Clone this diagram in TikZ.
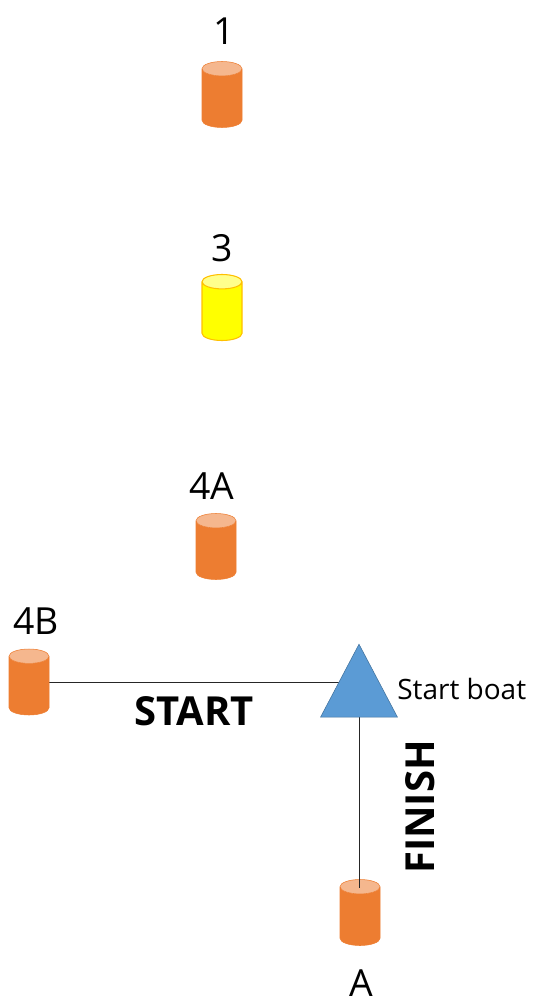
\documentclass[tikz,border=0pt]{standalone}
\usepackage{fontspec}
\setmainfont{Open Sans}
\usepackage{tikz}
\usetikzlibrary{shapes.geometric, positioning, calc, backgrounds}
\definecolor{buoyorange}{RGB}{237, 125, 49}
\definecolor{buoyyellow}{RGB}{255, 255, 0}
\definecolor{yellowedge}{RGB}{255, 192, 0}
\definecolor{boatblue}{RGB}{91, 155, 213}
\definecolor{boatedge}{RGB}{65, 113, 156}

\begin{document}
\begin{tikzpicture}[
    x=0.75pt, y=-0.75pt,
    buoy/.style={cylinder, shape border rotate=90, aspect=0.36, minimum width=30pt, minimum height=49.5pt, inner xsep=15pt, inner ysep=0pt, anchor=shape center, draw=buoyorange, cylinder uses custom fill, cylinder body fill=buoyorange, cylinder end fill=buoyorange!55!white},
    yellowbuoy/.style={buoy, draw=yellowedge, thick, cylinder body fill=buoyyellow, cylinder end fill=buoyyellow!45!white},
    boatbox/.style={isosceles triangle, isosceles triangle stretches, shape border rotate=90, minimum width=57.75pt, minimum height=54.75pt, inner sep=0pt, draw=boatedge, fill=boatblue},
    lbl/.style={inner sep=0pt, font=\fontsize{28}{30}\selectfont},
    legbox/.style={inner sep=0pt, font=\fontsize{30}{32}\selectfont\bfseries},
    line/.style={draw=black!85, thin}
]
\useasboundingbox (0,0) rectangle (535,1006);

% Marks
\node[buoy] (mark1) at (222,94.5) {};
\node[yellowbuoy] (mark3) at (222,307.5) {};
\node[buoy] (mark4a) at (216,546.5) {};
\node[buoy] (mark4b) at (29,682) {};
\node[buoy] (markA) at (360,912.5) {};

% Mark labels
\node[lbl] (lbl1) at (224,31) {1};
\node[lbl] (lbl3) at (222,248) {3};
\node[lbl] (lbl4a) at (212,486) {4A};
\node[lbl] (lbl4b) at (36,621) {4B};
\node[lbl] (lblA) at (361,983) {A};

% Finish line
\coordinate (boatpos) at (359,694);
\coordinate (atop) at (359,888);
\draw[line] (boatpos) -- (atop);

% Start boat
\node[boatbox] (boat) at (boatpos) {};
\node[inner sep=0pt, font=\fontsize{21}{23}\selectfont, anchor=west] (boatlbl) at (397,689) {Start boat};

% Start line
\begin{pgfonlayer}{background}
\draw[line] (mark4b.shape center) -- (mark4b.shape center -| boat.center);
\end{pgfonlayer}

\node[legbox] (start) at (194,711) {START};
\node[legbox, rotate=90] (finish) at (420,807) {FINISH};

\end{tikzpicture}
\end{document}
